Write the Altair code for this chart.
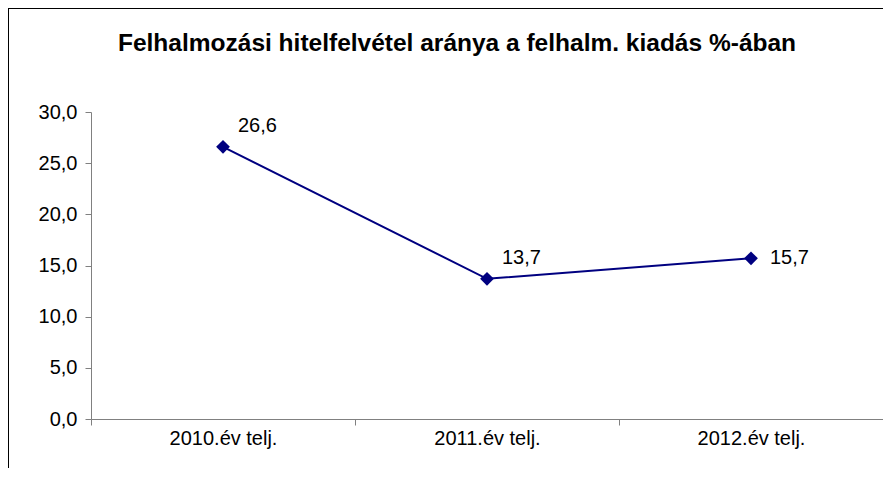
import altair as alt
import pandas as pd

categories = ["2010.év telj.", "2011.év telj.", "2012.év telj."]
values = [26.6, 13.7, 15.7]
y_ticks = [0, 5, 10, 15, 20, 25, 30]
title_text = "Felhalmozási hitelfelvétel aránya a felhalm. kiadás %-ában"

df = pd.DataFrame({"cat": categories, "val": values})

FONT = "Liberation Sans, Arial"
NAVY = "#000080"
GRAY = "#808080"

base = alt.Chart(df)

x_enc = alt.X(
    "cat:N",
    sort=categories,
    bandPosition=0.5,
    scale=alt.Scale(type="band", paddingInner=0, paddingOuter=0),
    axis=alt.Axis(
        title=None, labelAngle=0, tickBand="extent", domainColor=GRAY, tickColor=GRAY,
        tickSize=6, labelPadding=3, labelFontSize=20, labelFont=FONT, labelColor="black",
        grid=False, domainWidth=1, tickWidth=1,
    ),
)
y_enc = alt.Y(
    "val:Q",
    scale=alt.Scale(domain=[0, 30], nice=False, zero=True),
    axis=alt.Axis(
        title=None, values=y_ticks, grid=False, domainColor=GRAY, tickColor=GRAY,
        tickSize=6, labelPadding=8, labelFontSize=20, labelFont=FONT, labelColor="black",
        labelExpr="replace(format(datum.value, '.1f'), '.', ',')",
    ),
)

line = base.mark_line(color=NAVY, strokeWidth=2).encode(x=x_enc, y=y_enc)
points = base.mark_point(shape="diamond", filled=True, color=NAVY, size=190, opacity=1).encode(x=x_enc, y=y_enc)

lab_expr = "replace(format(datum.val, '.1f'), '.', ',')"
labels_a = base.transform_filter(
    alt.FieldOneOfPredicate(field="cat", oneOf=categories[:2])
).transform_calculate(lbl=lab_expr).mark_text(
    align="left", baseline="middle", dx=15, dy=-21, fontSize=20, font=FONT, color="black"
).encode(x=x_enc, y=y_enc, text="lbl:N")
labels_b = base.transform_filter(
    alt.FieldEqualPredicate(field="cat", equal=categories[2])
).transform_calculate(lbl=lab_expr).mark_text(
    align="left", baseline="middle", dx=19, dy=0, fontSize=20, font=FONT, color="black"
).encode(x=x_enc, y=y_enc, text="lbl:N")

title_mark = alt.Chart(alt.Data(values=[{"t": title_text}])).mark_text(
    align="center", baseline="alphabetic", font=FONT, fontSize=24.5, fontWeight="bold", color="black"
).encode(x=alt.value(366), y=alt.value(-61), text="t:N")

frame = alt.Data(values=[{}])
border_top = alt.Chart(frame).mark_rect(color="black", strokeWidth=0).encode(
    x=alt.value(-83), x2=alt.value(792), y=alt.value(-104), y2=alt.value(-103)
)
border_left = alt.Chart(frame).mark_rect(color="black", strokeWidth=0).encode(
    x=alt.value(-83), x2=alt.value(-82), y=alt.value(-104), y2=alt.value(356)
)

chart = alt.layer(border_top, border_left, title_mark, line, points, labels_a, labels_b).properties(
    width=792,
    height=307,
    autosize=alt.AutoSizeParams(type="none"),
    padding={"left": 83, "top": 104, "right": 0, "bottom": 49},
).configure_view(stroke=None, strokeWidth=0)

chart.save("out.html", embed_options={"renderer": "svg", "actions": False})
